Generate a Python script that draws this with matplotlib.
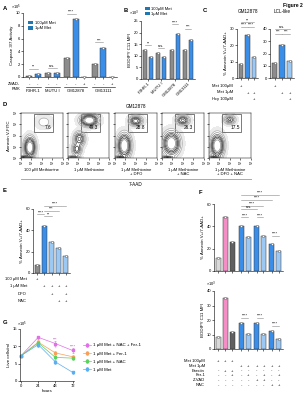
import numpy as np
import matplotlib
matplotlib.use('Agg')
import matplotlib.pyplot as plt
from matplotlib import transforms
from matplotlib.patches import Rectangle

plt.rcParams['font.family'] = ['Liberation Sans', 'DejaVu Sans']
plt.rcParams['font.size'] = 3.2
plt.rcParams['axes.linewidth'] = 0.4
plt.rcParams['xtick.major.width'] = 0.4
plt.rcParams['ytick.major.width'] = 0.4
plt.rcParams['xtick.major.size'] = 1.2
plt.rcParams['ytick.major.size'] = 1.2
plt.rcParams['xtick.major.pad'] = 0.8
plt.rcParams['ytick.major.pad'] = 0.8
plt.rcParams['xtick.labelsize'] = 3
plt.rcParams['ytick.labelsize'] = 3

GRAY = '#8c8c8c'
BLUE = '#3a8ee8'
LBLUE = '#9cc8f4'
PINK = '#f58ec6'
DGRAY = '#606060'
LGRAY = '#d8d8d8'
WHITE = '#ffffff'

# ---- data ----
# A: caspase 3/7 activity (x10^5)
a_lines = ['P3HR-1', 'MUTU I', 'GM12878', 'GM13111']
a_met100 = [0.2, 0.7, 2.9, 2.1]
a_met1 = [0.4, 0.6, 9.0, 4.6]
a_zvad = [None, None, 0.05, 0.05]
a_sig = ['**', 'n.s.', '****', '***']

# B: BODIPY C11 MFI (x10^3)
b_lines = ['P3HR-1', 'MUTU I', 'GM12878', 'GM13111']
b_met100 = [12.3, 11.3, 12.3, 12.5]
b_met1 = [9.5, 9.5, 19.5, 17.0]
b_sig = ['**', 'n.s.', '****', '***']

# C: % Annexin V+/7-AAD+
c_gm12878 = [8.5, 26.5, 13.0]
c_lcl = [12.0, 27.0, 13.5]
c_rows = ['Met 100μM', 'Met 1μM', 'Hcy 100μM']
c_marks = [['+', '', ''], ['', '+', '+'], ['', '', '+']]

# D: flow plots (clusters: x, y, sx, sy, weight in log10 units)
d_titles = ['100 μM Methionine', '1 μM Methionine', '1 μM Methionine\n+ DFO',
            '1 μM Methionine\n+ NAC', '1 μM Methionine\n+ DFO + NAC']
d_pct = ['7.6', '49.3', '28.8', '26.3', '17.5']
d_clusters = [
    [(1.85, 1.95, 0.27, 0.45, 1.0), (3.2, 4.2, 0.4, 0.3, 0.06), (1.5, 1.08, 0.35, 0.06, 0.5)],
    [(3.05, 4.35, 0.42, 0.26, 1.0), (2.1, 2.7, 0.27, 0.32, 0.5), (1.85, 1.8, 0.24, 0.3, 0.4),
     (1.5, 1.08, 0.35, 0.06, 0.3)],
    [(3.0, 4.3, 0.32, 0.22, 0.55), (1.9, 2.1, 0.32, 0.52, 1.0), (1.5, 1.08, 0.35, 0.06, 0.3)],
    [(3.0, 4.35, 0.32, 0.22, 0.5), (1.9, 2.3, 0.4, 0.5, 1.0), (1.5, 1.08, 0.35, 0.06, 0.3)],
    [(3.0, 4.4, 0.28, 0.2, 0.35), (1.8, 2.1, 0.32, 0.5, 1.0), (1.5, 1.08, 0.35, 0.06, 0.3)],
]

# E: % Annexin V+/7-AAD+
e_vals = [7.5, 44.0, 29.0, 23.0, 15.5]
e_rows = ['100 μM Met', '1 μM Met', 'DFO', 'NAC']
e_marks = [['+', '', '', '', ''], ['', '+', '+', '+', '+'],
           ['', '', '+', '', '+'], ['', '', '', '+', '+']]

# F: annexin and BODIPY
f_annexin = [11.5, 48.0, 26.0, 40.0, 30.5, 40.5, 31.0, 24.5, 18.0]
f_bodipy = [8.0, 35.0, 12.0, 18.0, 10.5, 18.0, 10.5, 12.5, 7.0]
f_rows = ['Met 100μM', 'Met 1μM', 'Erastin', 'Fer-1', 'Z-VAD', 'NAC']
f_marks = [['+', '+', '+', '', '', '', '', '', ''],
           ['', '', '', '+', '+', '+', '+', '+', '+'],
           ['-', '+', '+', '-', '-', '-', '-', '-', '-'],
           ['-', '-', '+', '-', '+', '-', '+', '-', '+'],
           ['-', '-', '-', '-', '-', '+', '+', '-', '-'],
           ['-', '-', '-', '-', '-', '-', '-', '+', '+']]

# G: live cells/ml (x10^5)
g_hours = [0, 24, 48, 72]
g_labels = ['1 μM Met + NAC + Fer-1', '1 μM Met + Fer-1', '1 μM Met + NAC', '1 μM Met']
g_vals = [[7.3, 12.6, 10.8, 8.8],
          [7.3, 11.2, 8.1, 7.0],
          [7.3, 11.0, 6.8, 6.6],
          [7.3, 10.5, 5.5, 2.5]]
g_err = [[0.2, 0.5, 0.8, 0.7],
         [0.2, 0.6, 0.6, 0.6],
         [0.2, 0.5, 0.5, 0.4],
         [0.2, 0.6, 0.5, 0.5]]
g_colors = ['#e070e6', '#f7a05a', '#5cd25c', '#5aaef2']

W, H = 306, 400
fig = plt.figure(figsize=(W / 100, H / 100), dpi=100)


def px_axes(x0, y0, x1, y1):
    return fig.add_axes([x0 / W, 1 - y1 / H, (x1 - x0) / W, (y1 - y0) / H])


def ftext(x, y, s, **kw):
    fig.text(x / W, 1 - y / H, s, **kw)


def xtext(ax, x, ypx, s, **kw):
    tr = transforms.blended_transform_factory(ax.transData, fig.transFigure)
    ax.text(x, 1 - ypx / H, s, transform=tr, clip_on=False, **kw)


def xline(ax, x1, x2, ypx, color='k', lw=0.4):
    tr = transforms.blended_transform_factory(ax.transData, fig.transFigure)
    ax.plot([x1, x2], [1 - ypx / H] * 2, transform=tr, color=color, lw=lw, clip_on=False)


def style(ax):
    ax.spines['top'].set_visible(False)
    ax.spines['right'].set_visible(False)


def bars(ax, pos, vals, colors, width=0.68):
    for p, v, c in zip(pos, vals, colors):
        ax.bar(p, v, width=width, color=c, edgecolor='#333333' if c != WHITE else '#555555',
               linewidth=0.35, zorder=2)
        ax.plot(p, v, 'o', ms=1.6, mfc='white', mec='#444444', mew=0.3, zorder=3, clip_on=False)


def sig(ax, x1, x2, y, s, color='#888888'):
    ax.plot([x1, x2], [y, y], color=color, lw=0.4, clip_on=False)
    ax.text((x1 + x2) / 2, y, s, ha='center', va='bottom', fontsize=2.8, clip_on=False)


def legend_met(ax, **kw):
    h1 = ax.bar([], [], color=GRAY, edgecolor='#333333', lw=0.35)
    h2 = ax.bar([], [], color=BLUE, edgecolor='#333333', lw=0.35)
    ax.legend([h1, h2], ['100μM Met', '1μM Met'], frameon=False, fontsize=3,
              handlelength=1.2, handleheight=0.8, handletextpad=0.4, labelspacing=0.3,
              borderaxespad=0, **kw)


# ---- Panel A ----
axA = px_axes(23, 13, 117, 77)
style(axA)
pos_a = [0, 1, 2.2, 3.2, 4.4, 5.4, 6.4, 7.6, 8.6, 9.6]
vals_a, cols_a = [], []
for i in range(4):
    vals_a += [a_met100[i], a_met1[i]]
    cols_a += [GRAY, BLUE]
    if a_zvad[i] is not None:
        vals_a.append(a_zvad[i])
        cols_a.append(WHITE)
bars(axA, pos_a, vals_a, cols_a)
axA.set_ylim(0, 10)
axA.set_xlim(-0.7, 10.2)
axA.set_yticks([0, 2, 4, 6, 8, 10])
axA.set_xticks(pos_a)
axA.set_xticklabels([])
axA.set_ylabel('Caspase 3/7 Activity', fontsize=3.2, labelpad=1)
axA.text(-0.13, 1.06, '×10$^5$', transform=axA.transAxes, fontsize=2.8, ha='left')
legend_met(axA, loc='upper left', bbox_to_anchor=(0.04, 0.9))
groups_a = [(0, 1), (2.2, 3.2), (4.4, 6.4), (7.6, 9.6)]
sig(axA, 0, 1, 1.3, a_sig[0])
sig(axA, 2.2, 3.2, 1.4, a_sig[1])
sig(axA, 4.4, 5.4, 9.9, a_sig[2])
sig(axA, 7.6, 8.6, 5.4, a_sig[3])
zv = ['-', '-', '-', '-', '-', '-', '+', '-', '-', '+']
for p, m in zip(pos_a, zv):
    xtext(axA, p, 84, m, ha='center', va='center', fontsize=3)
ftext(20, 84, 'ZVAD-', ha='right', va='center', fontsize=3)
ftext(20, 89.5, 'FMK', ha='right', va='center', fontsize=3)
for (g0, g1), name in zip(groups_a, a_lines):
    xline(axA, g0 - 0.35, g1 + 0.35, 87)
    xtext(axA, (g0 + g1) / 2, 90.5, name, ha='center', va='center', fontsize=3)

# ---- Panel B ----
axB = px_axes(141, 21, 195, 79)
style(axB)
pos_b = [0, 1, 2.2, 3.2, 4.4, 5.4, 6.6, 7.6]
vals_b, cols_b = [], []
for i in range(4):
    vals_b += [b_met100[i], b_met1[i]]
    cols_b += [GRAY, BLUE]
bars(axB, pos_b, vals_b, cols_b)
axB.set_ylim(0, 25)
axB.set_xlim(-0.7, 8.3)
axB.set_yticks([0, 5, 10, 15, 20, 25])
axB.set_xticks([0.5, 2.7, 4.9, 7.1])
axB.set_xticklabels(b_lines, rotation=45, ha='right', rotation_mode='anchor', fontsize=3)
axB.set_ylabel('BODIPY C11 MFI', fontsize=3.2, labelpad=1)
axB.text(-0.22, 1.1, '×10$^3$', transform=axB.transAxes, fontsize=2.8, ha='left')
sig(axB, 0, 1, 14.5, b_sig[0])
sig(axB, 2.2, 3.2, 13.5, b_sig[1])
sig(axB, 4.4, 5.4, 23.5, b_sig[2])
sig(axB, 6.6, 7.6, 21.5, b_sig[3])
legend_met(axB, loc='lower left', bbox_to_anchor=(0.04, 1.06))

# ---- Panel C ----
for (x0, x1, vals, title, ymax, sigs) in [
        (237, 258, c_gm12878, 'GM12878', 30, [('****', 0, 1, 31.5), ('****', 1, 2, 31.5), ('**', 0, 2, 34)]),
        (270, 294, c_lcl, 'LCL-like', 40, [('***', 0, 1, 36), ('***', 1, 2, 36), ('n.s.', 0, 2, 40)])]:
    ax = px_axes(x0, 29, x1, 78)
    style(ax)
    bars(ax, [0, 1, 2], vals, [GRAY, BLUE, LBLUE], width=0.7)
    ax.set_ylim(0, ymax)
    ax.set_xlim(-0.6, 2.6)
    ax.set_yticks(range(0, ymax + 1, 10))
    ax.set_xticks([0, 1, 2])
    ax.set_xticklabels([])
    for s, i, j, y in sigs:
        sig(ax, i, j, y, s)
    ax.text(0.5, 1.33, title, transform=ax.transAxes, ha='center', fontsize=3.3)
    for r, row in enumerate(c_marks):
        for k, m in enumerate(row):
            xtext(ax, k, 86 + r * 6.5, m, ha='center', va='center', fontsize=3)
    if title == 'GM12878':
        ax.set_ylabel('% Annexin V+/7-AAD+', fontsize=3.2, labelpad=1)
for r, name in enumerate(c_rows):
    ftext(233, 86 + r * 6.5, name, ha='right', va='center', fontsize=3)

# ---- Panel D ----
gx, gy = np.meshgrid(np.linspace(1, 5, 200), np.linspace(1, 5, 200))
d_x0 = [21, 68, 115, 162, 209]
dec = ['10$^1$', '10$^2$', '10$^3$', '10$^4$', '10$^5$']
for k in range(5):
    ax = px_axes(d_x0[k], 113, d_x0[k] + 41.5, 158)
    dens = np.zeros_like(gx)
    for cx, cy, sx, sy, w in d_clusters[k]:
        dens += w * np.exp(-((gx - cx) ** 2 / (2 * sx ** 2) + (gy - cy) ** 2 / (2 * sy ** 2)))
    ax.contourf(gx, gy, dens, levels=[0.004, 0.03], colors=['#ebebeb'])
    ax.contour(gx, gy, dens, levels=[0.03, 0.07, 0.14, 0.22, 0.32, 0.45, 0.6],
               colors=['#b0b0b0', '#909090', '#6a6a6a', '#404040', '#252525', '#555555', '#8a8a8a'],
               linewidths=0.5)
    ax.add_patch(Rectangle((2.3, 3.3), 1.75, 1.65, fill=False, lw=0.45, ec='#333333'))
    ax.text(3.95, 3.45, d_pct[k], ha='right', va='bottom', fontsize=3.4)
    ax.set_xlim(1, 5)
    ax.set_ylim(1, 5)
    ax.set_xticks([1, 2, 3, 4, 5])
    ax.set_xticklabels(dec, fontsize=1.9)
    ax.tick_params(axis='x', pad=0.4)
    ax.set_yticks([1, 2, 3, 4, 5])
    if k == 0:
        ax.set_yticklabels(dec, fontsize=1.9)
        ax.set_ylabel('Annexin V-FITC', fontsize=3.2, labelpad=1)
    else:
        ax.set_yticklabels([])
    for sp in ax.spines.values():
        sp.set_linewidth(0.35)
    ax.text(0.5, -0.23, d_titles[k], transform=ax.transAxes, ha='center', va='top',
            fontsize=3.0, linespacing=1.0)
ftext(136, 106, 'GM12878', ha='center', va='center', fontsize=3.3)
fig.add_artist(plt.Line2D([21 / W, 251 / W], [1 - 179 / H] * 2, color='#aaaaaa', lw=0.7))
ftext(136, 184.5, '7-AAD', ha='center', va='center', fontsize=3.3)

# ---- Panel E ----
axE = px_axes(33, 209, 70, 273)
style(axE)
bars(axE, range(5), e_vals, [GRAY, BLUE, LBLUE, LBLUE, LBLUE], width=0.68)
axE.set_ylim(0, 60)
axE.set_xlim(-0.6, 4.6)
axE.set_yticks([0, 20, 40, 60])
axE.set_xticks(range(5))
axE.set_xticklabels([])
axE.set_ylabel('% Annexin V+/7-AAD+', fontsize=3.2, labelpad=1)
sig(axE, 0, 1, 55, '****')
sig(axE, 1, 2, 53, '**')
sig(axE, 1, 3, 58, '***')
sig(axE, 1, 4, 63, '****')
for r, row in enumerate(e_marks):
    for k, m in enumerate(row):
        xtext(axE, k, 279 + r * 7.3, m, ha='center', va='center', fontsize=3)
    ftext(27, 279 + r * 7.3, e_rows[r], ha='right', va='center', fontsize=3)

# ---- Panel F ----
pos_f = [0, 1, 2, 3.3, 4.3, 5.5, 6.5, 7.7, 8.7]
cols_f = [LGRAY, PINK, DGRAY, BLUE, LBLUE, BLUE, LBLUE, BLUE, LBLUE]
axF1 = px_axes(214, 204, 283, 271)
style(axF1)
bars(axF1, pos_f, f_annexin, cols_f, width=0.72)
axF1.set_ylim(0, 60)
axF1.set_xlim(-0.6, 9.3)
axF1.set_yticks([0, 20, 40, 60])
axF1.set_xticks(pos_f)
axF1.set_xticklabels([])
axF1.set_ylabel('% Annexin V+/7-AAD+', fontsize=3.2, labelpad=1)
sig(axF1, 3.3, 4.3, 48, '****')
sig(axF1, 5.5, 6.5, 48, '****')
sig(axF1, 7.7, 8.7, 31.5, '****')
sig(axF1, 3.3, 5.5, 55.5, 'n.s.')
sig(axF1, 3.3, 6.5, 58.5, '****')
sig(axF1, 3.3, 7.7, 63.5, '****')
sig(axF1, 3.3, 8.7, 68, '****')

axF2 = px_axes(214, 291, 283, 349)
style(axF2)
bars(axF2, pos_f, f_bodipy, cols_f, width=0.72)
axF2.set_ylim(0, 40)
axF2.set_xlim(-0.6, 9.3)
axF2.set_yticks([0, 10, 20, 30, 40])
axF2.set_xticks(pos_f)
axF2.set_xticklabels([])
axF2.set_ylabel('BODIPY C11 MFI', fontsize=3.2, labelpad=1)
axF2.text(-0.12, 1.08, '×10$^3$', transform=axF2.transAxes, fontsize=2.8, ha='left')
sig(axF2, 3.3, 4.3, 21.5, '****')
sig(axF2, 5.5, 6.5, 21.5, '****')
sig(axF2, 7.7, 8.7, 16, '****')
for r, row in enumerate(f_marks):
    for k, m in enumerate(row):
        xtext(axF2, pos_f[k], 361 + r * 4.8, m, ha='center', va='center', fontsize=3)
    ftext(205, 361 + r * 4.8, f_rows[r], ha='right', va='center', fontsize=3)

# ---- Panel G ----
axG = px_axes(20, 329, 74, 381)
style(axG)
for vals, err, col, lab in zip(g_vals, g_err, g_colors, g_labels):
    axG.errorbar(g_hours, vals, yerr=err, color=col, marker='s', ms=1.5, lw=0.5,
                 elinewidth=0.4, capsize=0.8, capthick=0.4, label=lab, clip_on=False)
axG.set_xlim(-1.5, 74)
axG.set_ylim(0, 15)
axG.set_xticks(g_hours)
axG.set_yticks([0, 5, 10, 15])
axG.set_xlabel('hours', fontsize=3.2, labelpad=1)
axG.set_ylabel('Live cells/ml', fontsize=3.2, labelpad=1)
axG.text(-0.05, 1.05, '×10$^5$', transform=axG.transAxes, fontsize=2.8, ha='left')
axG.text(48, 11.5, '***', ha='center', fontsize=2.8, color='#aa55aa')
axG.text(72, 9.6, '****', ha='center', fontsize=2.8, color='#aa55aa')
axG.text(48, 8.9, '*', ha='center', fontsize=2.8, color='#f7a05a')
axG.legend(loc='center left', bbox_to_anchor=(1.1, 0.45), frameon=False, fontsize=3.2,
           handlelength=1.6, labelspacing=0.9, handletextpad=0.6)

# ---- panel letters ----
for letter, x, y in [('A', 3, 9), ('B', 124, 11), ('C', 203, 10), ('D', 3, 104),
                     ('E', 3, 190), ('F', 199, 192), ('G', 3, 323)]:
    ftext(x, y, letter, fontsize=4.2, fontweight='bold', ha='left', va='center')
ftext(303, 3, 'Figure 2', fontsize=3.6, fontweight='bold', ha='right', va='top')

fig.savefig('out.png', dpi=100)
